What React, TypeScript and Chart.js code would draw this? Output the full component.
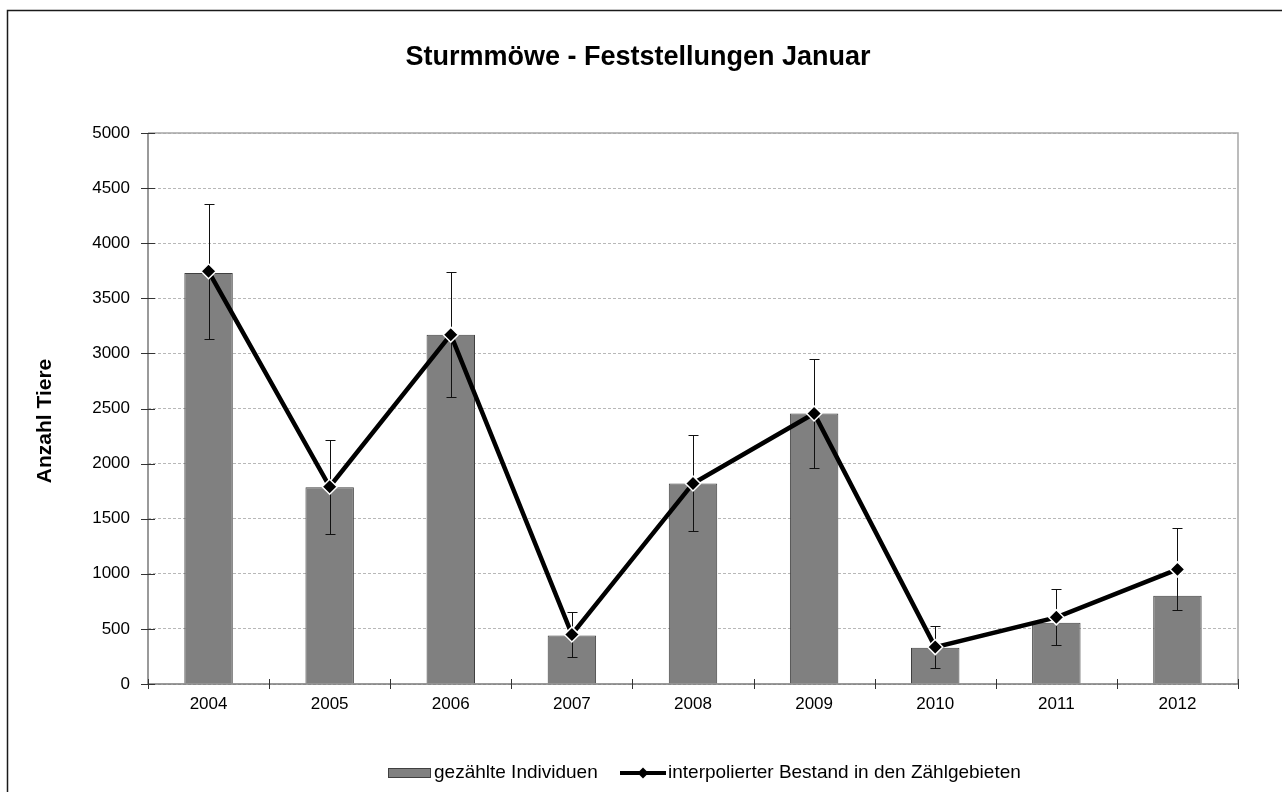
import React, { useEffect, useRef } from "react";
import { Chart, registerables } from "chart.js";

Chart.register(...registerables);

const years = ["2004", "2005", "2006", "2007", "2008", "2009", "2010", "2011", "2012"];
const countedIndividuals = [3730, 1785, 3170, 440, 1820, 2455, 330, 555, 800];
const interpolatedStock = [3745, 1790, 3170, 450, 1820, 2455, 335, 605, 1040];
const errorMargin = [610, 425, 570, 207, 435, 495, 190, 254, 372];
const yMin = 0;
const yMax = 5000;
const yStep = 500;

const titleText = "Sturmmöwe - Feststellungen Januar";
const yAxisTitle = "Anzahl Tiere";
const legendBarLabel = "gezählte Individuen";
const legendLineLabel = "interpolierter Bestand in den Zählgebieten";

const FONT = "'Liberation Sans', Arial, sans-serif";

const decorPlugin = {
  id: "decor",
  afterDatasetDraw(chart: any, args: any) {
    if (args.index !== 0) return;
    const ctx = chart.ctx;
    const yScale = chart.scales.y;
    const lineMeta = chart.getDatasetMeta(1);
    ctx.save();
    ctx.strokeStyle = "#111";
    ctx.lineWidth = 1;
    lineMeta.data.forEach((pt: any, i: number) => {
      const x = Math.round(pt.x) + 0.5;
      const v = interpolatedStock[i];
      const yTop = Math.round(yScale.getPixelForValue(v + errorMargin[i])) + 0.5;
      const yBot = Math.round(yScale.getPixelForValue(v - errorMargin[i])) + 0.5;
      ctx.beginPath();
      ctx.moveTo(x, yTop);
      ctx.lineTo(x, yBot);
      ctx.moveTo(x - 5, yTop);
      ctx.lineTo(x + 5, yTop);
      ctx.moveTo(x - 5, yBot);
      ctx.lineTo(x + 5, yBot);
      ctx.stroke();
    });
    ctx.restore();
  },
  afterDraw(chart: any) {
    const ctx = chart.ctx;
    const { left, right, top, bottom } = chart.chartArea;
    const yScale = chart.scales.y;
    ctx.save();

    // outer chart border (left and top visible)
    ctx.strokeStyle = "#1a1a1a";
    ctx.lineWidth = 1.5;
    ctx.beginPath();
    ctx.moveTo(7.5, 800);
    ctx.lineTo(7.5, 10.5);
    ctx.lineTo(1290, 10.5);
    ctx.stroke();

    // plot area border (top, right)
    ctx.strokeStyle = "#a6a6a6";
    ctx.lineWidth = 1.5;
    ctx.beginPath();
    ctx.moveTo(left, top);
    ctx.lineTo(right, top);
    ctx.lineTo(right, bottom);
    ctx.stroke();

    // axes lines
    ctx.strokeStyle = "#7a7a7a";
    ctx.lineWidth = 1.5;
    ctx.beginPath();
    ctx.moveTo(left, top);
    ctx.lineTo(left, bottom);
    ctx.lineTo(right, bottom);
    ctx.stroke();

    // tick marks crossing the axes
    ctx.strokeStyle = "#333";
    ctx.lineWidth = 1;
    ctx.beginPath();
    yScale.ticks.forEach((t: any) => {
      const y = Math.round(yScale.getPixelForValue(t.value)) + 0.5;
      ctx.moveTo(left - 7, y);
      ctx.lineTo(left + 7, y);
    });
    const n = years.length;
    for (let k = 0; k <= n; k++) {
      const x = Math.round(left + ((right - left) * k) / n) + 0.5;
      ctx.moveTo(x, bottom - 5);
      ctx.lineTo(x, bottom + 5);
    }
    ctx.stroke();

    // title
    ctx.fillStyle = "#000";
    ctx.textAlign = "center";
    ctx.textBaseline = "middle";
    ctx.font = `bold 27px ${FONT}`;
    ctx.fillText(titleText, 638, 58);

    // y axis title
    ctx.save();
    ctx.translate(45, 421);
    ctx.rotate(-Math.PI / 2);
    ctx.font = `bold 21px ${FONT}`;
    ctx.fillText(yAxisTitle, 0, 0);
    ctx.restore();

    // legend
    const ly = 773;
    ctx.font = `19px ${FONT}`;
    ctx.textAlign = "left";
    ctx.textBaseline = "middle";
    ctx.fillStyle = "#808080";
    ctx.fillRect(388, ly - 5, 43, 10);
    ctx.strokeStyle = "#404040";
    ctx.lineWidth = 1;
    ctx.strokeRect(388.5, ly - 4.5, 42, 9);
    ctx.fillStyle = "#000";
    ctx.fillText(legendBarLabel, 434, ly);

    ctx.strokeStyle = "#000";
    ctx.lineWidth = 4;
    ctx.beginPath();
    ctx.moveTo(620, ly);
    ctx.lineTo(666, ly);
    ctx.stroke();
    ctx.beginPath();
    ctx.moveTo(643 - 5.5, ly);
    ctx.lineTo(643, ly - 5.5);
    ctx.lineTo(643 + 5.5, ly);
    ctx.lineTo(643, ly + 5.5);
    ctx.closePath();
    ctx.fillStyle = "#000";
    ctx.fill();
    ctx.fillText(legendLineLabel, 668, ly);

    ctx.restore();
  },
};

export default function App() {
  const canvasRef = useRef<HTMLCanvasElement | null>(null);

  useEffect(() => {
    const canvas = canvasRef.current;
    if (!canvas) return;
    const chart = new Chart(canvas, {
      type: "bar",
      data: {
        labels: years,
        datasets: [
          {
            type: "bar",
            label: legendBarLabel,
            data: countedIndividuals,
            backgroundColor: "#808080",
            borderColor: "#404040",
            borderWidth: 1,
            barPercentage: 0.4,
            categoryPercentage: 1,
            order: 2,
          },
          {
            type: "line",
            label: legendLineLabel,
            data: interpolatedStock,
            borderColor: "#000",
            borderWidth: 4.5,
            tension: 0,
            pointStyle: "rectRot",
            pointRadius: 7.5,
            pointBackgroundColor: "#000",
            pointBorderColor: "#fff",
            pointBorderWidth: 1.5,
            order: 1,
          },
        ],
      } as any,
      options: {
        responsive: false,
        animation: false,
        events: [],
        layout: { padding: { left: 8, top: 133, right: 44, bottom: 0 } },
        plugins: {
          legend: { display: false },
          title: { display: false },
          tooltip: { enabled: false },
        },
        scales: {
          x: {
            grid: { display: false, drawTicks: false },
            border: { display: false },
            ticks: {
              color: "#000",
              font: { family: FONT, size: 17 },
              padding: 10,
              maxRotation: 0,
            },
            afterFit: (scale: any) => {
              scale.height = 108;
            },
          },
          y: {
            min: yMin,
            max: yMax,
            grid: { color: "#b8b8b8", lineWidth: 1, drawTicks: false },
            border: { display: false, dash: [3, 2] },
            ticks: {
              stepSize: yStep,
              color: "#000",
              font: { family: FONT, size: 17 },
              padding: 18,
              callback: (value: any) => String(value),
            },
            afterFit: (scale: any) => {
              scale.width = 140;
            },
          },
        },
      } as any,
      plugins: [decorPlugin],
    });
    return () => chart.destroy();
  }, []);

  return (
    <div style={{ position: "fixed", left: 0, top: 0, width: 1282, height: 792, background: "#fff" }}>
      <canvas ref={canvasRef} width={1282} height={792} style={{ display: "block" }} />
    </div>
  );
}
